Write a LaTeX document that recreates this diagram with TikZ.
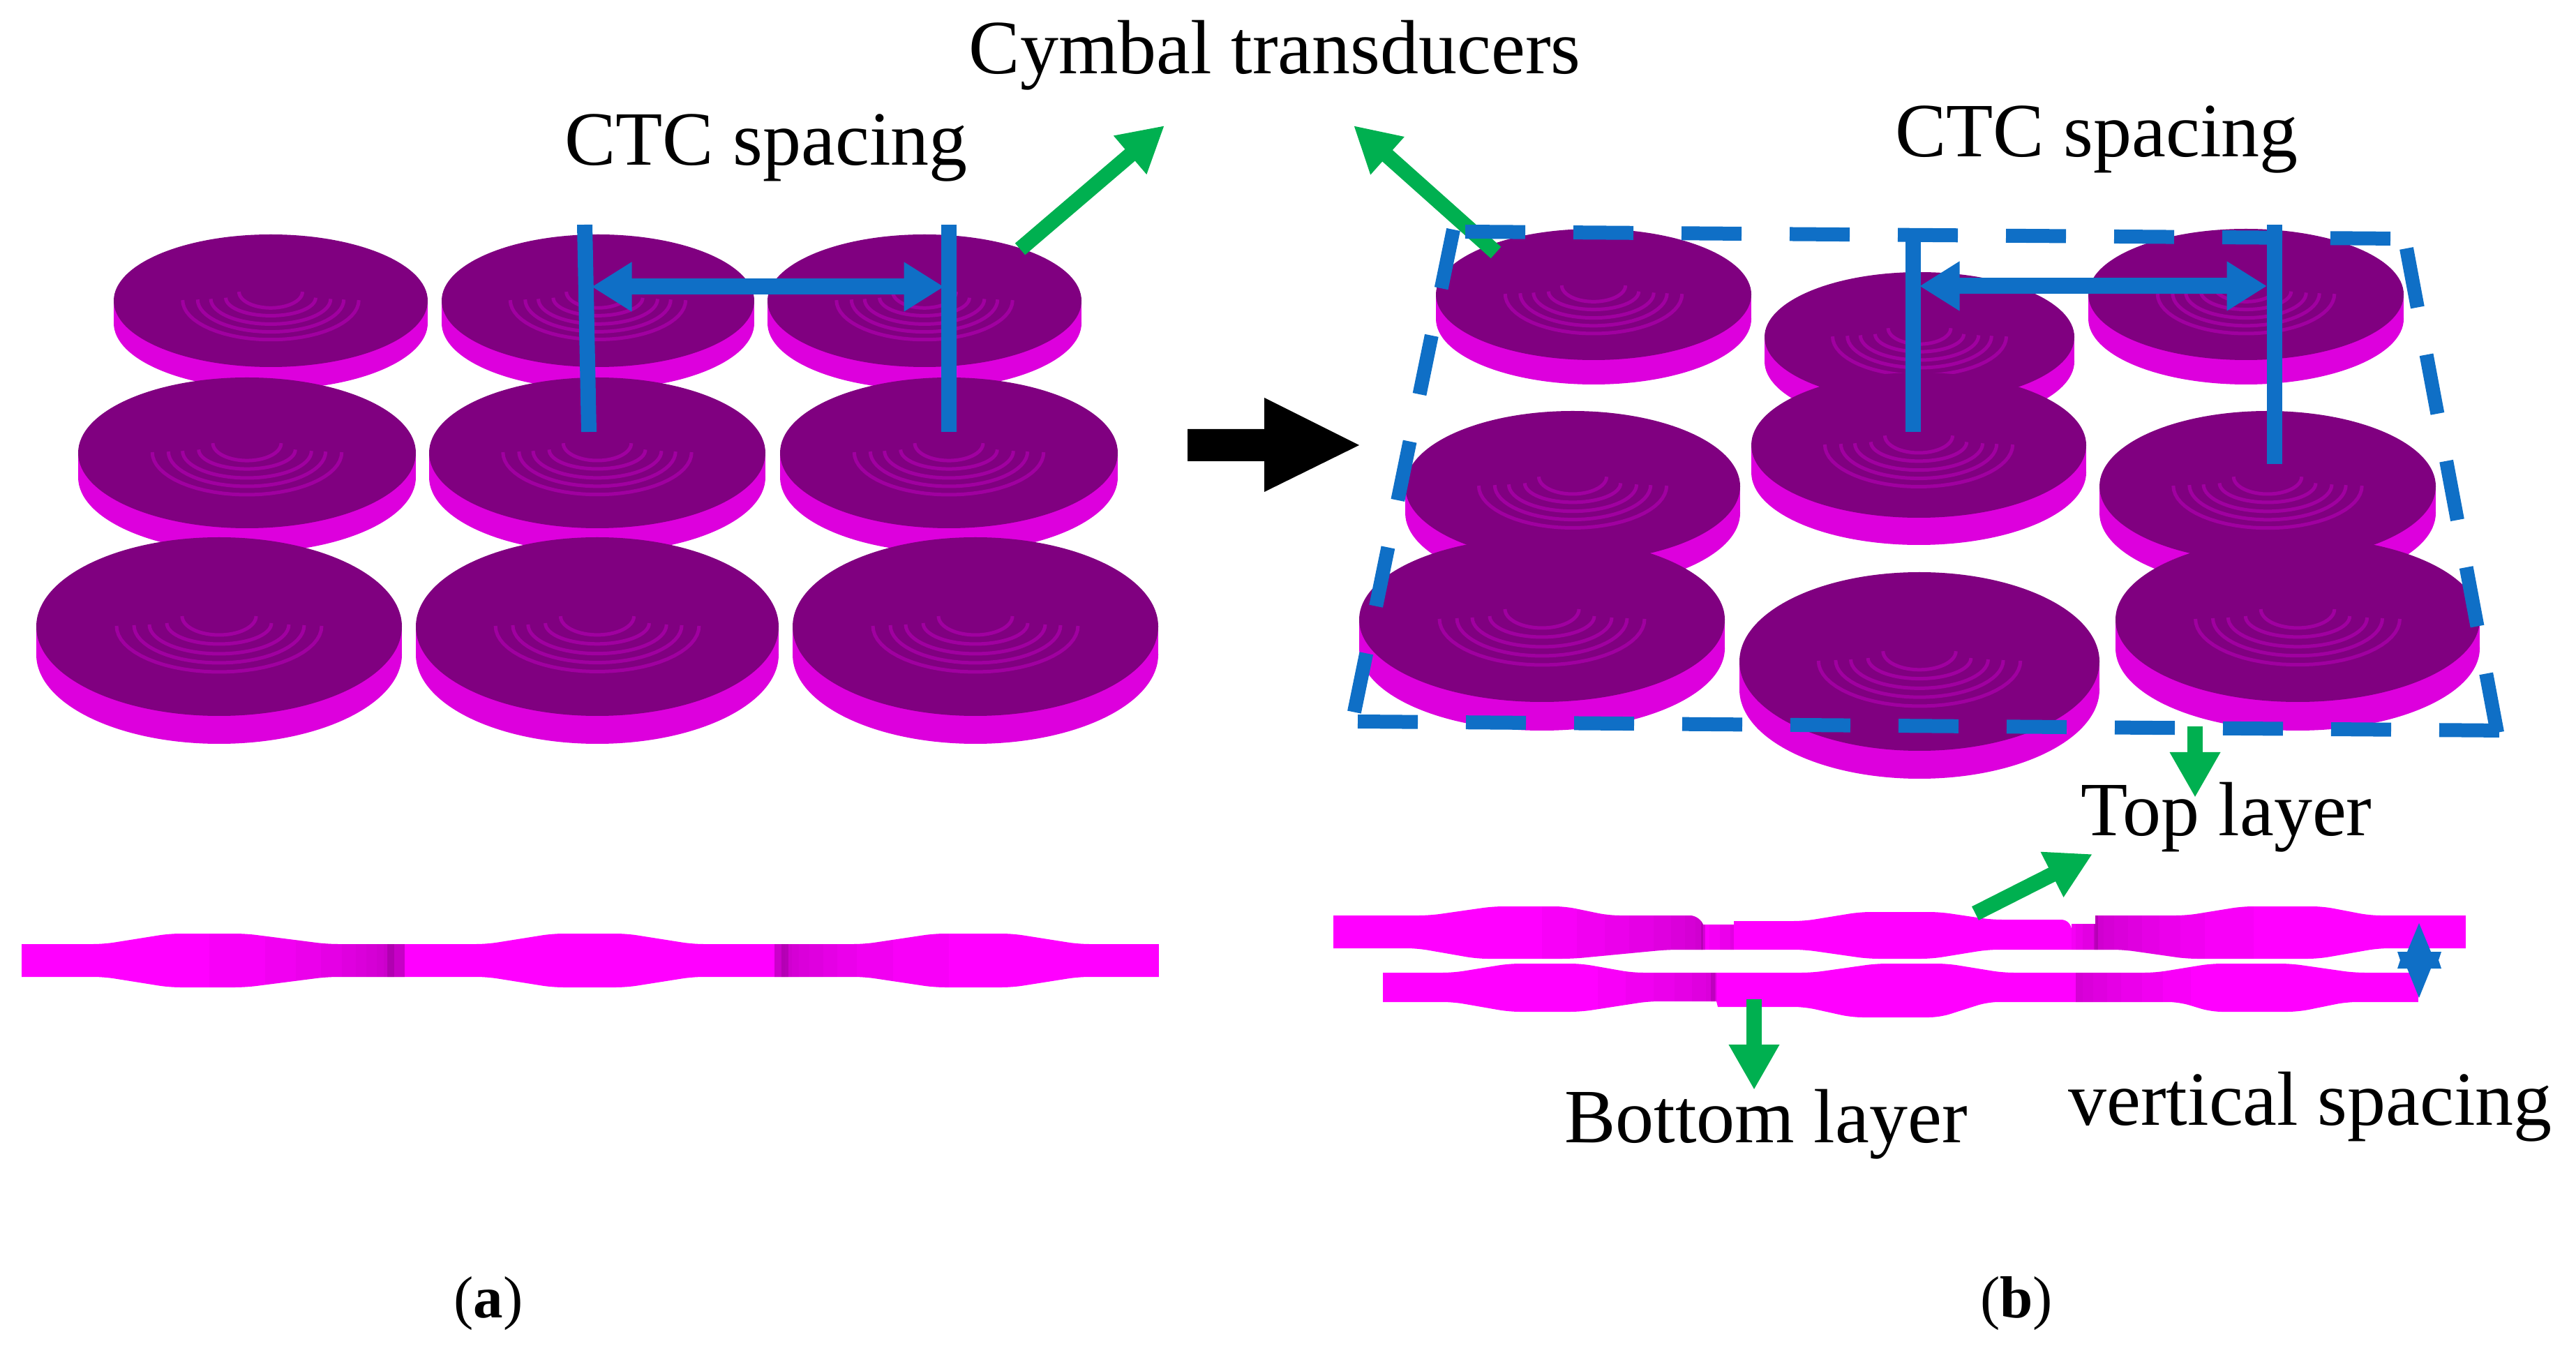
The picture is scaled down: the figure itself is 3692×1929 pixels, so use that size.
\documentclass[tikz,border=0pt]{standalone}
\usepackage{fontspec}
\setmainfont{Liberation Serif}
\usetikzlibrary{arrows.meta}
\definecolor{discTop}{HTML}{800080}
\definecolor{discSide}{HTML}{DD00DD}
\definecolor{discRing}{HTML}{A000A0}
\definecolor{stripCol}{HTML}{FF00FF}
\definecolor{blueCol}{HTML}{0F6FC6}
\definecolor{greenCol}{HTML}{00B050}
\tikzset{
  lbl/.style={font=\fontsize{22}{24}\selectfont,inner sep=0pt,anchor=base,text=black},
  subcap/.style={font=\fontsize{17}{20}\selectfont,inner sep=0pt,anchor=base,text=black},
  bluebar/.style={draw=blueCol,line width=4.4pt},
  blueArr/.style={draw=blueCol,line width=4.6pt,{Triangle[length=11.5pt,width=13.4pt]}-{Triangle[length=11.5pt,width=13.4pt]}},
  greenArr/.style={draw=greenCol,line width=4.4pt,-{Triangle[length=13pt,width=13.6pt]}},
  dashBox/.style={draw=blueCol,line width=4pt,dash pattern=on 17.2pt off 13.8pt},
  stripe/.style={fill=discTop,fill opacity=0.05},
  spike/.style={fill=discTop,fill opacity=0.3},
  edgeRound/.style={rounded corners=3pt},
}
\newcommand{\disc}[5]{%
  \fill[discSide] (#1,{#2+#5}) ellipse [x radius=#3,y radius=#4];
  \fill[discSide] ({#1-#3},#2) rectangle ({#1+#3},{#2+#5});
  \fill[discTop] (#1,#2) ellipse [x radius=#3,y radius=#4];
  \begin{scope}[shift={(#1,#2)},scale={#3/262}]
    \foreach \rr/\oo/\hh in {53/-15/27,75/-5/30,100/-3/42,122/-2/54,147/-1/66}{
      \draw[discRing,line width=1pt] plot[domain=0:180,samples=32] ({\rr*cos(\x)},{\oo+\hh*sin(\x)});
    }
  \end{scope}
}
\begin{document}
\begin{tikzpicture}[x=0.2pt,y=-0.2pt]
\useasboundingbox (0,0) rectangle (3692,1929);
% left panel discs
\disc{388}{431}{225}{95}{32}
\disc{857}{431}{224}{95}{32}
\disc{1325}{431}{225}{95}{32}
\disc{354}{649}{242}{108}{35}
\disc{856}{649}{241}{108}{35}
\disc{1360}{649}{242}{108}{35}
\disc{314}{898}{262}{128}{40}
\disc{856}{898}{260}{128}{40}
\disc{1398}{898}{262}{128}{40}
% right panel discs
\disc{2284}{422}{226}{94}{35}
\disc{2751}{483}{222}{93}{35}
\disc{3219}{422}{226}{94}{35}
\disc{2254}{697}{240}{108}{38}
\disc{3250}{697}{241}{108}{38}
\disc{2750}{638}{240}{104}{39}
\disc{2210}{888}{262}{118}{41}
\disc{3293}{888}{261}{118}{41}
\disc{2751}{948}{258}{128}{40}
% left strip
\begin{scope}
\path[clip,edgeRound] (-20,1353) -- (149,1353) -- (243,1338) -- (352,1338) -- (469,1353) -- (698,1353) -- (792,1338) -- (898,1338) -- (993,1353) -- (1239,1353) -- (1339,1338) -- (1451,1338) -- (1546,1353) -- (1710,1353) -- (1710,1400) -- (1546,1400) -- (1451,1415) -- (1339,1415) -- (1239,1400) -- (993,1400) -- (898,1415) -- (792,1415) -- (698,1400) -- (469,1400) -- (352,1415) -- (243,1415) -- (149,1400) -- (-20,1400) -- cycle;
\fill[stripCol] (31,1330) rectangle (1661,1420);
\foreach \a in {300,380,424,460,490,510,525,540,550,556}{
  \fill[stripe] (\a,1330) rectangle (580,1420);
}
\foreach \b in {1125,1135,1145,1160,1180,1200,1228,1280,1360}{
  \fill[stripe] (1110,1330) rectangle (\b,1420);
}
\fill[spike] (555,1330) rectangle (565,1420);
\fill[spike] (1120,1330) rectangle (1130,1420);
\end{scope}
% right top strip
\begin{scope}
\path[clip,edgeRound] (1860,1312) -- (2049,1312) -- (2140,1299) -- (2243,1299) -- (2306,1312) -- (2437,1312) [sharp corners] -- (2441,1325) -- (2485,1325) -- (2485,1320) [rounded corners=3pt] -- (2586,1320) -- (2666,1307) -- (2780,1307) -- (2854,1318) -- (2969,1318) [sharp corners] -- (2969,1324) -- (3003,1324) -- (3003,1312) [rounded corners=3pt] -- (3134,1312) -- (3214,1299) -- (3329,1299) -- (3397,1312) -- (3590,1312) -- (3590,1359) -- (3409,1359) -- (3323,1374) -- (3134,1374) -- (3043,1361) -- (2849,1361) -- (2769,1374) -- (2677,1374) -- (2586,1361) -- (2390,1361) -- (2254,1374) -- (2117,1374) -- (2031,1359) -- (1860,1359) -- cycle;
\fill[stripCol] (1911,1290) rectangle (3534,1380);
\foreach \a in {2210,2260,2300,2335,2370,2395,2415,2430}{
  \fill[stripe] (\a,1290) rectangle (2441,1380);
}
\foreach \a in {2450,2465,2480}{
  \fill[stripe,fill opacity=0.08] (\a,1290) rectangle (2485,1380);
}
\fill[spike] (2438,1290) rectangle (2444,1380);
\foreach \a in {2969,2975,2985}{
  \fill[stripe,fill opacity=0.08] (\a,1290) rectangle (3003,1380);
}
\foreach \b in {3015,3030,3050,3070,3095,3125,3160,3230}{
  \fill[stripe] (3003,1290) rectangle (\b,1380);
}
\fill[spike] (3001,1290) rectangle (3007,1380);
\end{scope}
% right lower strip
\begin{scope}
\path[clip,edgeRound] (1930,1394) -- (2083,1394) -- (2163,1381) -- (2266,1381) -- (2340,1394) -- (2597,1394) -- (2689,1381) -- (2791,1381) -- (2871,1394) -- (3089,1394) -- (3169,1381) -- (3283,1381) -- (3374,1394) -- (3520,1394) -- (3520,1436) -- (3363,1436) -- (3294,1450) -- (3169,1450) -- (3123,1436) -- (2849,1436) -- (2780,1458) -- (2654,1458) -- (2586,1443) [sharp corners] -- (2462,1443) -- (2460,1435) [rounded corners=3pt] -- (2363,1435) -- (2266,1450) -- (2163,1450) -- (2083,1436) -- (1930,1436) -- cycle;
\fill[stripCol] (1982,1375) rectangle (3466,1465);
\foreach \a in {2290,2330,2370,2400,2425,2445}{
  \fill[stripe] (\a,1375) rectangle (2460,1465);
}
\fill[spike] (2452,1375) rectangle (2458,1465);
\foreach \b in {2985,3000,3020,3040,3070,3100,3140}{
  \fill[stripe] (2975,1375) rectangle (\b,1465);
}
\end{scope}
% named end points
\coordinate (la) at (838,322); \coordinate (lb) at (844,619);
\coordinate (lc) at (1360,322); \coordinate (ld) at (1360,619);
\coordinate (le) at (848,411); \coordinate (lf) at (1353,411);
\coordinate (ra) at (2742,337); \coordinate (rb) at (2742,619);
\coordinate (rc) at (3260,322); \coordinate (rd) at (3260,665);
\coordinate (re) at (2751,410); \coordinate (rf) at (3249,410);
\coordinate (g1s) at (1462,357); \coordinate (g1e) at (1669,180);
\coordinate (g2s) at (2144,362); \coordinate (g2e) at (1940,180);
\coordinate (g3s) at (3146,1041); \coordinate (g3e) at (3146,1143);
\coordinate (g4s) at (2831,1309); \coordinate (g4e) at (2999,1224);
\coordinate (g5s) at (2514,1432); \coordinate (g5e) at (2514,1562);
\coordinate (bA) at (2100,332); \coordinate (bB) at (3437,342);
\coordinate (bC) at (3449,356); \coordinate (bD) at (3580,1055);
\coordinate (bE) at (3591,1047); \coordinate (bF) at (1946,1034);
\coordinate (bG) at (1940,1025); \coordinate (bH) at (2083,329);
% left blue marks
\draw[bluebar] (la) -- (lb);
\draw[bluebar] (lc) -- (ld);
\draw[blueArr] (le) -- (lf);
% green arrow under the box
\draw[greenArr] (g2s) -- (g2e);
% dashed box
\draw[dashBox] (bA) -- (bB);
\draw[dashBox] (bC) -- (bD);
\draw[dashBox] (bF) -- (bE);
\draw[dashBox] (bH) -- (bG);
% right blue marks
\draw[bluebar] (ra) -- (rb);
\draw[bluebar] (rc) -- (rd);
\draw[blueArr] (re) -- (rf);
% vertical spacing arrow
\fill[blueCol] (3467,1323) -- (3484,1364) -- (3499,1364) -- (3495,1376) -- (3499,1388) -- (3484,1388) -- (3467,1430) -- (3450,1388) -- (3436,1388) -- (3440,1376) -- (3436,1364) -- (3450,1364) -- cycle;
% green arrows
\draw[greenArr] (g1s) -- (g1e);
\draw[greenArr] (g3s) -- (g3e);
\draw[greenArr] (g4s) -- (g4e);
\draw[greenArr] (g5s) -- (g5e);
% black arrow
\fill[black] (1702,615) -- (1812,615) -- (1812,570) -- (1948,638) -- (1812,705) -- (1812,661) -- (1702,661) -- cycle;
% labels
\node[lbl] (tCym) at (1827,106) {Cymbal transducers};
\node[lbl] (tCtcL) at (1098,237) {CTC spacing};
\node[lbl] (tCtcR) at (3005,225) {CTC spacing};
\node[lbl] (tTop) at (3191,1197) {Top layer};
\node[lbl] (tBot) at (2531,1637) {Bottom layer};
\node[lbl] (tVer) at (3311,1612) {vertical spacing};
\node[subcap] (tA) at (700,1888) {(\textbf{a})};
\node[subcap] (tB) at (2890,1888) {(\textbf{b})};
\end{tikzpicture}
\end{document}
